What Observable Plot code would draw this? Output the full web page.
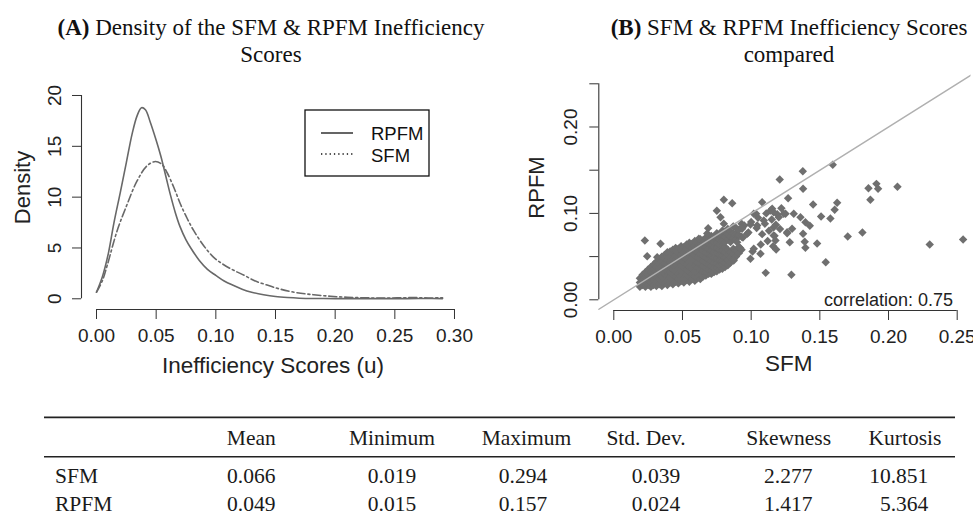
<!DOCTYPE html>
<html><head><meta charset="utf-8">
<script src="https://cdn.jsdelivr.net/npm/d3@7"></script>
<script src="https://cdn.jsdelivr.net/npm/@observablehq/plot@0.6"></script>
<style>
html,body{margin:0;padding:0;background:#fff;}
#wrap{position:relative;width:973px;height:515px;overflow:hidden;background:#fff;}
#wrap > svg{position:absolute;}
</style></head><body><div id="wrap"></div>
<script>
// ---------- Panel A: density curves ----------
const rpfmU = [0.000,0.005,0.010,0.0145,0.020,0.025,0.030,0.034,0.0377,0.041,0.045,0.050,0.054,0.058,0.062,0.066,0.070,0.075,0.079,0.086,0.093,0.100,0.107,0.115,0.122,0.130,0.140,0.150,0.160,0.170,0.185,0.200,0.220,0.240,0.260,0.275,0.290];
const rpfmD = [0.65,2.2,4.5,7.4,10.5,13.4,16.3,18.0,18.8,18.6,17.4,15.6,14.0,12.1,10.2,8.5,7.1,5.8,5.0,3.8,2.9,2.3,1.75,1.3,0.95,0.65,0.40,0.22,0.12,0.06,0.03,0.02,0.02,0.02,0.02,0.03,0.02];
const sfmU = [0.000,0.005,0.009,0.0173,0.0257,0.034,0.0425,0.0494,0.055,0.0592,0.065,0.0704,0.076,0.0815,0.090,0.098,0.106,0.115,0.124,0.132,0.143,0.154,0.168,0.182,0.196,0.210,0.224,0.238,0.252,0.266,0.278,0.290];
const sfmD = [0.65,1.8,3.3,6.7,9.3,11.6,13.1,13.5,13.2,12.4,10.9,9.3,7.9,6.7,5.2,4.1,3.4,2.8,2.3,1.8,1.35,0.95,0.6,0.4,0.25,0.15,0.1,0.07,0.09,0.12,0.08,0.1];
const densityTicksX = [0,0.05,0.10,0.15,0.20,0.25,0.30];
const densityTicksY = [0,5,10,15,20];

// ---------- Panel B: scatter SFM (x) vs RPFM (y) ----------
const scorePairs = [
 [0.019,0.015],[0.019,0.020],[0.019,0.025],
 [0.021,0.017],[0.021,0.023],[0.021,0.029],
 [0.023,0.015],[0.023,0.020],[0.023,0.026],[0.023,0.032],
 [0.025,0.017],[0.025,0.023],[0.025,0.029],[0.025,0.035],
 [0.027,0.015],[0.027,0.020],[0.027,0.026],[0.027,0.032],[0.027,0.038],
 [0.029,0.017],[0.029,0.023],[0.029,0.029],[0.029,0.035],[0.029,0.041],
 [0.031,0.016],[0.031,0.021],[0.031,0.027],[0.031,0.033],[0.031,0.038],[0.031,0.044],
 [0.033,0.018],[0.033,0.024],[0.033,0.030],[0.033,0.036],[0.033,0.042],[0.033,0.047],
 [0.035,0.016],[0.035,0.021],[0.035,0.027],[0.035,0.033],[0.035,0.039],[0.035,0.045],[0.035,0.050],
 [0.037,0.019],[0.037,0.024],[0.037,0.030],[0.037,0.036],[0.037,0.042],[0.037,0.048],[0.037,0.052],
 [0.039,0.017],[0.039,0.022],[0.039,0.028],[0.039,0.034],[0.039,0.040],[0.039,0.046],[0.039,0.051],[0.039,0.055],
 [0.041,0.020],[0.041,0.026],[0.041,0.032],[0.041,0.038],[0.041,0.044],[0.041,0.050],[0.041,0.056],
 [0.043,0.018],[0.043,0.023],[0.043,0.029],[0.043,0.035],[0.043,0.041],[0.043,0.047],[0.043,0.053],[0.043,0.058],
 [0.045,0.021],[0.045,0.027],[0.045,0.033],[0.045,0.039],[0.045,0.045],[0.045,0.051],[0.045,0.057],[0.045,0.060],
 [0.047,0.019],[0.047,0.024],[0.047,0.030],[0.047,0.036],[0.047,0.042],[0.047,0.048],[0.047,0.054],[0.047,0.059],
 [0.049,0.022],[0.049,0.028],[0.049,0.034],[0.049,0.040],[0.049,0.046],[0.049,0.052],[0.049,0.058],[0.049,0.062],
 [0.051,0.020],[0.051,0.025],[0.051,0.031],[0.051,0.037],[0.051,0.043],[0.051,0.049],[0.051,0.055],[0.051,0.061],
 [0.053,0.023],[0.053,0.029],[0.053,0.035],[0.053,0.041],[0.053,0.047],[0.053,0.053],[0.053,0.059],[0.053,0.064],
 [0.055,0.021],[0.055,0.026],[0.055,0.032],[0.055,0.038],[0.055,0.044],[0.055,0.050],[0.055,0.056],[0.055,0.062],[0.055,0.066],
 [0.057,0.024],[0.057,0.030],[0.057,0.036],[0.057,0.042],[0.057,0.048],[0.057,0.054],[0.057,0.060],[0.057,0.065],
 [0.059,0.022],[0.059,0.027],[0.059,0.033],[0.059,0.039],[0.059,0.045],[0.059,0.051],[0.059,0.057],[0.059,0.063],[0.059,0.068],
 [0.061,0.025],[0.061,0.031],[0.061,0.037],[0.061,0.043],[0.061,0.049],[0.061,0.055],[0.061,0.061],[0.061,0.067],
 [0.063,0.024],[0.063,0.029],[0.063,0.035],[0.063,0.041],[0.063,0.047],[0.063,0.053],[0.063,0.059],[0.063,0.065],[0.063,0.070],
 [0.065,0.027],[0.065,0.033],[0.065,0.039],[0.065,0.045],[0.065,0.051],[0.065,0.057],[0.065,0.063],[0.065,0.069],
 [0.067,0.028],[0.067,0.032],[0.067,0.037],[0.067,0.043],[0.067,0.049],[0.067,0.055],[0.067,0.061],[0.067,0.067],[0.067,0.072],
 [0.069,0.030],[0.069,0.035],[0.069,0.041],[0.069,0.047],[0.069,0.053],[0.069,0.059],[0.069,0.065],[0.069,0.071],
 [0.071,0.030],[0.071,0.034],[0.071,0.039],[0.071,0.045],[0.071,0.051],[0.071,0.057],[0.071,0.063],[0.071,0.069],[0.071,0.074],
 [0.073,0.032],[0.073,0.037],[0.073,0.043],[0.073,0.049],[0.073,0.055],[0.073,0.061],[0.073,0.067],[0.073,0.073],
 [0.075,0.033],[0.075,0.037],[0.075,0.042],[0.075,0.048],[0.075,0.054],[0.075,0.060],[0.075,0.066],[0.075,0.072],[0.075,0.077],
 [0.077,0.035],[0.077,0.040],[0.077,0.046],[0.077,0.052],[0.077,0.058],[0.077,0.064],[0.077,0.070],[0.077,0.076],
 [0.079,0.036],[0.079,0.041],[0.079,0.045],[0.079,0.051],[0.079,0.057],[0.079,0.063],[0.079,0.069],[0.079,0.075],[0.079,0.080],
 [0.081,0.038],[0.081,0.043],[0.081,0.049],[0.081,0.055],[0.081,0.061],[0.081,0.067],[0.081,0.073],[0.081,0.079],
 [0.083,0.040],[0.083,0.046],[0.083,0.052],[0.083,0.058],[0.083,0.070],[0.083,0.076],[0.083,0.082],
 [0.085,0.043],[0.085,0.049],[0.085,0.055],[0.085,0.067],[0.085,0.073],[0.085,0.079],
 [0.087,0.047],[0.087,0.053],[0.087,0.059],[0.087,0.071],[0.087,0.077],[0.087,0.085],
 [0.089,0.050],[0.089,0.057],[0.089,0.070],[0.089,0.076],[0.089,0.083],
 [0.091,0.054],[0.091,0.061],[0.091,0.075],[0.091,0.081],
 [0.093,0.058],[0.093,0.073],[0.093,0.088],
 [0.092,0.060],[0.094,0.072],[0.095,0.086],[0.098,0.078],[0.100,0.090],[0.101,0.056],
 [0.104,0.083],[0.105,0.095],[0.107,0.064],[0.108,0.076],[0.110,0.088],[0.111,0.100],
 [0.112,0.068],[0.113,0.080],[0.115,0.093],[0.116,0.062],[0.117,0.074],[0.118,0.087],[0.119,0.099],
 [0.121,0.082],[0.122,0.106],
 [0.0226,0.0686],[0.0340,0.0648],[0.0243,0.0505],[0.0316,0.0493],
 [0.0801,0.1157],[0.0862,0.1118],[0.0750,0.1030],[0.1080,0.1130],[0.1036,0.0995],[0.1106,0.0312],
 [0.1293,0.0289],[0.1543,0.0435],[0.1451,0.1103],[0.0687,0.0829],[0.0619,0.0706],[0.0680,0.0767],
 [0.0934,0.0840],[0.0995,0.0872],[0.0801,0.0880],[0.0777,0.0956],[0.1153,0.1053],[0.1019,0.0995],
 [0.0934,0.0822],[0.0971,0.0764],[0.1044,0.0860],[0.1092,0.0918],[0.1141,0.1034],[0.1164,0.0744],
 [0.1177,0.0686],[0.1068,0.0532],[0.1019,0.0590],[0.0898,0.0667],[0.0873,0.0455],[0.0995,0.0475],
 [0.1250,0.0995],[0.1262,0.0783],
 [0.1594,0.1563],[0.1376,0.1488],[0.1208,0.1392],[0.1378,0.1285],[0.1269,0.1176],[0.1626,0.1123],
 [0.1608,0.1042],[0.1577,0.0941],[0.1509,0.0964],[0.1854,0.1292],[0.1912,0.1342],[0.1924,0.1285],
 [0.2065,0.1308],[0.1868,0.1157],[0.1703,0.0733],[0.1810,0.0779],[0.2300,0.0640],[0.2543,0.0698],
 [0.1480,0.0652],[0.1395,0.0602],[0.1390,0.0671],[0.1378,0.0764],[0.1427,0.0856],[0.1395,0.0898],
 [0.1359,0.0956],[0.1310,0.0995],[0.1237,0.0995],[0.1281,0.0667],[0.1182,0.0582],[0.1262,0.0771],
 [0.1298,0.0822],[0.1164,0.1014],[0.1164,0.0840],[0.1201,0.0956]
];
const scatterTicks = [0,0.05,0.10,0.15,0.20,0.25];
const scatterYLabelTicks = [0,0.10,0.20];
const refDiagonal = [-0.05, 0.30];
const correlationLabel = "correlation: 0.75";

// ---------- Table ----------
const tableHeaders = ["Mean","Minimum","Maximum","Std. Dev.","Skewness","Kurtosis"];
const tableRows = ["SFM","RPFM"];
const sfmStats = [0.066,0.019,0.294,0.039,2.277,10.851];
const rpfmStats = [0.049,0.015,0.157,0.024,1.417,5.364];

// ---------- Titles ----------
const titleA = ["(A)", " Density of the SFM & RPFM Inefficiency", "Scores"];
const titleB = ["(B)", " SFM & RPFM Inefficiency Scores", "compared"];
const legendLabels = ["RPFM","SFM"];

// ================= drawing =================
const wrap = document.getElementById("wrap");
const sans = "'Liberation Sans', Arial, Helvetica, sans-serif";
const serif = "'Liberation Serif', 'Times New Roman', Times, serif";
const lineGray = "#686868";

const rpfmCurve = rpfmU.map((u, i) => ({u, d: rpfmD[i]}));
const sfmCurve = sfmU.map((u, i) => ({u, d: sfmD[i]}));

const leftX = [-0.01257, 0.30168];
const leftY = [-1.053, 20.885];

const left = Plot.plot({
  width: 490, height: 390,
  marginLeft: 81, marginRight: 34, marginTop: 86, marginBottom: 81,
  x: {domain: leftX, axis: null},
  y: {domain: leftY, axis: null},
  style: {fontFamily: sans, fontSize: "19px", color: "#222", background: "transparent", overflow: "visible"},
  marks: [
    Plot.ruleY([leftY[0]], {x1: densityTicksX[0], x2: densityTicksX[densityTicksX.length-1], stroke: "#333", strokeWidth: 1.1}),
    Plot.ruleX([leftX[0]], {y1: densityTicksY[0], y2: densityTicksY[densityTicksY.length-1], stroke: "#333", strokeWidth: 1.1}),
    Plot.axisX({ticks: densityTicksX, tickSize: 10, fill: "none", label: null, stroke: "#333"}),
    Plot.axisY({ticks: densityTicksY, tickSize: 9, fill: "none", label: null, stroke: "#333"}),
    Plot.text(densityTicksX, {x: d => d, frameAnchor: "bottom", dy: 26, text: d => d.toFixed(2), lineAnchor: "middle", textAnchor: "middle", fontSize: 19, fill: "#222"}),
    Plot.text(densityTicksY, {y: d => d, frameAnchor: "left", dx: -26.5, rotate: -90, text: d => String(d), lineAnchor: "middle", textAnchor: "middle", fontSize: 19, fill: "#222"}),
    Plot.text(["Inefficiency Scores (u)"], {frameAnchor: "bottom", dx: 4, dy: 56, lineAnchor: "middle", textAnchor: "middle", fontSize: 22.5, fill: "#222"}),
    Plot.text(["Density"], {frameAnchor: "left", dx: -59, dy: -10.5, rotate: -90, lineAnchor: "middle", textAnchor: "middle", fontSize: 22, fill: "#222"}),
    Plot.line(sfmCurve, {x: "u", y: "d", stroke: lineGray, strokeWidth: 1.6, strokeDasharray: "8,3,2,3", curve: "catmull-rom"}),
    Plot.line(rpfmCurve, {x: "u", y: "d", stroke: lineGray, strokeWidth: 1.6, curve: "catmull-rom"})
  ]
});
left.style.position = "absolute"; left.style.left = "0px"; left.style.top = "0px";
wrap.appendChild(left);

const rightX = [-0.01092, 0.26005];
const rightY = [-0.01238, 0.26076];

const right = Plot.plot({
  width: 483, height: 390,
  marginLeft: 108.3, marginRight: 2.5, marginTop: 74, marginBottom: 80,
  x: {domain: rightX, axis: null},
  y: {domain: rightY, axis: null},
  style: {fontFamily: sans, fontSize: "19px", color: "#222", background: "transparent", overflow: "visible"},
  marks: [
    Plot.ruleY([rightY[0]], {x1: scatterTicks[0], x2: scatterTicks[scatterTicks.length-1], stroke: "#333", strokeWidth: 1.1}),
    Plot.ruleX([rightX[0]], {y1: scatterTicks[0], y2: scatterTicks[scatterTicks.length-1], stroke: "#333", strokeWidth: 1.1}),
    Plot.axisX({ticks: scatterTicks, tickSize: 10, fill: "none", label: null, stroke: "#333"}),
    Plot.axisY({ticks: scatterTicks, tickSize: 9, fill: "none", label: null, stroke: "#333"}),
    Plot.text(scatterTicks, {x: d => d, frameAnchor: "bottom", dy: 26, text: d => d.toFixed(2), lineAnchor: "middle", textAnchor: "middle", fontSize: 19, fill: "#222"}),
    Plot.text(scatterYLabelTicks, {y: d => d, frameAnchor: "left", dx: -27.5, rotate: -90, text: d => d.toFixed(2), lineAnchor: "middle", textAnchor: "middle", fontSize: 19, fill: "#222"}),
    Plot.text(["SFM"], {frameAnchor: "bottom", dx: 3.8, dy: 53.5, lineAnchor: "middle", textAnchor: "middle", fontSize: 22.5, fill: "#222"}),
    Plot.text(["RPFM"], {frameAnchor: "left", dx: -61.6, dy: -5, rotate: -90, lineAnchor: "middle", textAnchor: "middle", fontSize: 22, fill: "#222"}),
    Plot.dot(scorePairs, {x: d => d[0], y: d => d[1], symbol: "diamond2", r: 3.8, fill: "#6f6f6f", clip: true}),
    Plot.line(refDiagonal, {x: d => d, y: d => d, stroke: "#b0b0b0", strokeWidth: 1.4, clip: true}),
    Plot.text([correlationLabel], {frameAnchor: "bottom-right", dx: -18, dy: -10, lineAnchor: "middle", textAnchor: "end", fontSize: 18, fill: "#222"})
  ]
});
right.style.position = "absolute"; right.style.left = "490px"; right.style.top = "0px";
wrap.appendChild(right);

// ---------- overlay: titles, legend, table ----------
const ov = d3.select(wrap).append("svg")
  .attr("width", 973).attr("height", 515)
  .style("left", "0px").style("top", "0px").style("pointer-events", "none");

function title(t, cx) {
  const l1 = ov.append("text").attr("x", cx).attr("y", 34.5).attr("text-anchor", "middle")
    .attr("font-family", serif).attr("font-size", 23).attr("fill", "#111");
  l1.append("tspan").attr("font-weight", "bold").text(t[0]);
  l1.append("tspan").text(t[1]);
  ov.append("text").attr("x", cx).attr("y", 62).attr("text-anchor", "middle")
    .attr("font-family", serif).attr("font-size", 23).attr("fill", "#111").text(t[2]);
}
title(titleA, 271);
title(titleB, 789);

// legend (panel A)
const lg = ov.append("g");
lg.append("rect").attr("x", 305).attr("y", 110).attr("width", 124).attr("height", 66)
  .attr("fill", "#fff").attr("stroke", "#111").attr("stroke-width", 1.3);
lg.append("line").attr("x1", 321).attr("x2", 353).attr("y1", 133).attr("y2", 133)
  .attr("stroke", "#111").attr("stroke-width", 1.3);
lg.append("line").attr("x1", 321).attr("x2", 353).attr("y1", 154).attr("y2", 154)
  .attr("stroke", "#111").attr("stroke-width", 1.3).attr("stroke-dasharray", "1.3,3");
legendLabels.forEach((s, i) => {
  lg.append("text").attr("x", 371).attr("y", 140 + i * 21.5).attr("font-family", sans)
    .attr("font-size", 18.5).attr("fill", "#111").text(s);
});

// table
const tb = ov.append("g").attr("font-family", serif).attr("font-size", 21.5).attr("fill", "#1a1a1a");
tb.append("line").attr("x1", 44).attr("x2", 955).attr("y1", 417.3).attr("y2", 417.3).attr("stroke", "#222").attr("stroke-width", 1.8);
tb.append("line").attr("x1", 44).attr("x2", 955).attr("y1", 456.7).attr("y2", 456.7).attr("stroke", "#222").attr("stroke-width", 1.5);
const headerCx = [251.3, 392, 526.5, 646, 788.7, 905];
const valueCx = [251.3, 392, 523, 656, 788.3, 899];
tableHeaders.forEach((h, i) => {
  tb.append("text").attr("x", headerCx[i]).attr("y", 445).attr("text-anchor", "middle").text(h);
});
const rowBaselines = [483.3, 510.5];
[sfmStats, rpfmStats].forEach((row, r) => {
  tb.append("text").attr("x", 55).attr("y", rowBaselines[r]).text(tableRows[r]);
  row.forEach((v, i) => {
    const last = i === row.length - 1;
    tb.append("text")
      .attr("x", last ? 928.3 : valueCx[i])
      .attr("y", rowBaselines[r])
      .attr("text-anchor", last ? "end" : "middle")
      .text(v.toFixed(3));
  });
});
</script></body></html>
